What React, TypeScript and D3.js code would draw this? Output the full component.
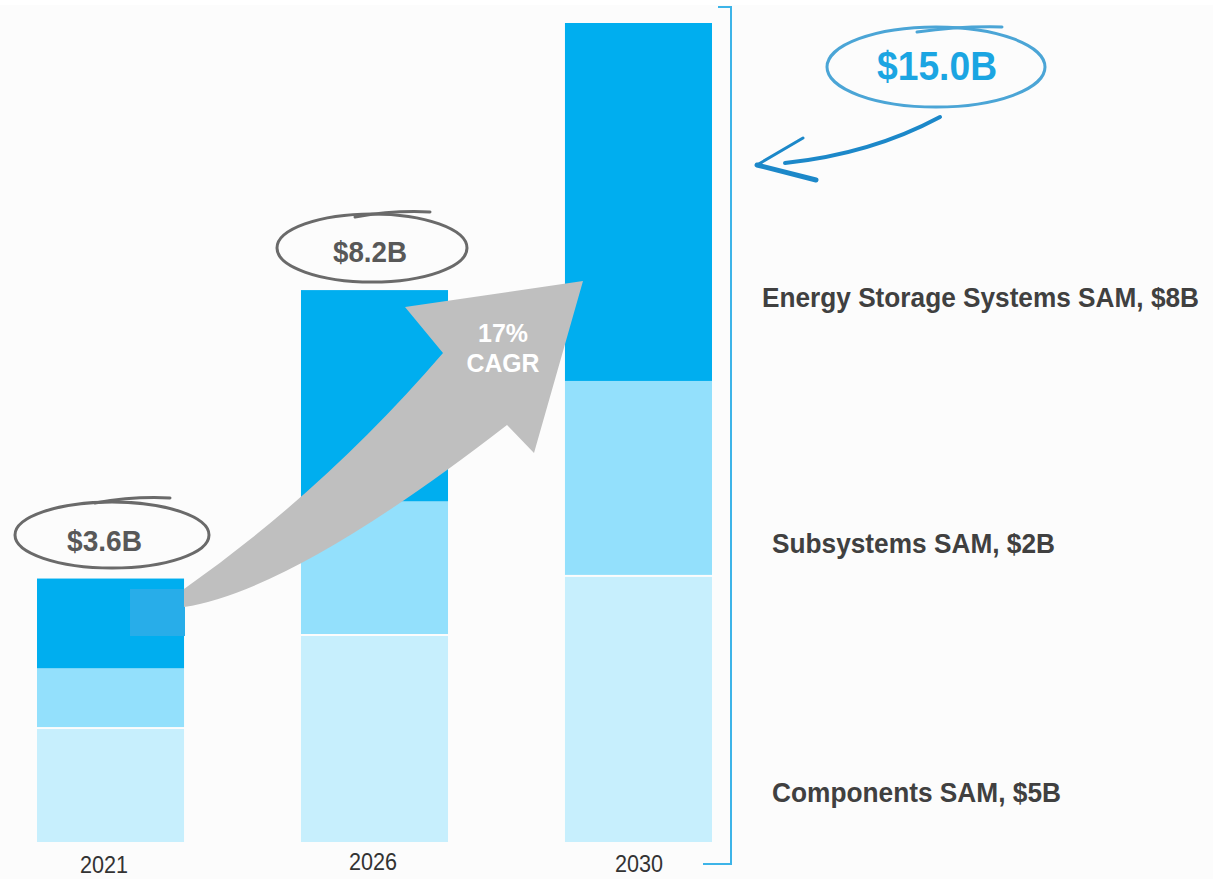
import React from "react";
import * as d3 from "d3";

const years = ["2021", "2026", "2030"];
const components = [2.1, 3.8, 4.88];
const subsystems = [1.11, 2.46, 3.58];
const energyStorage = [1.64, 3.86, 6.54];
const totalLabels = ["$3.6B", "$8.2B", "$15.0B"];
const seriesNames = ["Components SAM, $5B", "Subsystems SAM, $2B", "Energy Storage Systems SAM, $8B"];
const seriesKeys = ["components", "subsystems", "ess"];
const seriesColors = ["#c7effd", "#93e0fc", "#00aeef"];
const cagrLines = ["17%", "CAGR"];

const W = 1213;
const H = 879;

export default function App() {
  const table = years.map((y, i) => ({
    year: y,
    components: components[i],
    subsystems: subsystems[i],
    ess: energyStorage[i],
  }));
  const stack = d3.stack<any>().keys(seriesKeys)(table);
  const x = d3.scaleBand<string>().domain(years).range([37, 712]).paddingInner(0.443).paddingOuter(0);
  const y = d3.scaleLinear().domain([0, 15]).range([844, 23]);
  const bw = x.bandwidth();

  const upper = d3.path();
  upper.moveTo(184, 589);
  upper.quadraticCurveTo(326, 489, 443, 353);
  upper.lineTo(405, 307);
  upper.lineTo(583, 281);
  upper.lineTo(534, 453);
  upper.lineTo(507, 425);
  upper.quadraticCurveTo(294, 590, 184, 607);
  upper.closePath();

  const bubbles = [
    { cx: 112, cy: 535, rx: 97, ry: 33, stroke: "#6a6a6a", extra: "M95,503 Q135,496 170,498", tx: 104.5, ty: 551, fs: 29, tl: 75, fill: "#585858" },
    { cx: 372, cy: 248, rx: 95, ry: 34, stroke: "#6a6a6a", extra: "M355,217 Q395,210 430,212", tx: 370, ty: 262, fs: 29, tl: 74, fill: "#585858" },
    { cx: 936, cy: 67, rx: 109, ry: 40, stroke: "#4ba5d6", extra: "M917,32 Q960,26 1002,27", tx: 937, ty: 80, fs: 40, tl: 120, fill: "#1ba5e2" },
  ];

  const yearPos = [
    { cx: 104, by: 873 },
    { cx: 373, by: 870 },
    { cx: 639, by: 872 },
  ];

  const rightLabels = [
    { x: 772, by: 802, tl: 289 },
    { x: 772, by: 553, tl: 283 },
    { x: 762, by: 307, tl: 437 },
  ];

  return (
    <svg width={W} height={H} style={{ position: "absolute", left: 0, top: 0 }} fontFamily="'Liberation Sans', Arial, sans-serif">
      <rect x={0} y={0} width={W} height={H} fill="#fcfcfc" />
      <rect x={0} y={0} width={W} height={5} fill="#ffffff" />
      {stack.map((layer, li) =>
        layer.map((d, i) => {
          const top = y(d[1]);
          const bottom = y(d[0]);
          const h = bottom - top - (li < stack.length - 1 ? 2 : 0);
          return (
            <rect key={`${li}-${i}`} x={x(years[i])} y={top} width={bw} height={Math.max(0, h)} fill={seriesColors[li]} />
          );
        })
      )}
      <rect x={130} y={589} width={55} height={47} fill="#28ade9" />
      <path d={upper.toString()} fill="#bfbfbf" />
      <text textAnchor="middle" fill="#ffffff" fontWeight="bold" fontSize={25} x={503} y={342} textLength={50} lengthAdjust="spacingAndGlyphs">{cagrLines[0]}</text>
      <text textAnchor="middle" fill="#ffffff" fontWeight="bold" fontSize={25} x={503} y={372} textLength={73} lengthAdjust="spacingAndGlyphs">{cagrLines[1]}</text>

      {bubbles.map((b, i) => (
        <g key={i}>
          <ellipse cx={b.cx} cy={b.cy} rx={b.rx} ry={b.ry} fill="none" stroke={b.stroke} strokeWidth={3} />
          <path d={b.extra} fill="none" stroke={b.stroke} strokeWidth={3} strokeLinecap="round" />
          <text x={b.tx} y={b.ty} textAnchor="middle" fontWeight="bold" fontSize={b.fs} fill={b.fill} textLength={b.tl} lengthAdjust="spacingAndGlyphs">{totalLabels[i]}</text>
        </g>
      ))}

      <path d="M940,117 Q871,154 785,163" fill="none" stroke="#1c88c9" strokeWidth={4} strokeLinecap="round" />
      <path d="M803,138 L757,165" fill="none" stroke="#1c88c9" strokeWidth={3} strokeLinecap="round" />
      <path d="M757,165 L816,180" fill="none" stroke="#1c88c9" strokeWidth={5} strokeLinecap="round" />

      <path d="M718,7 L731,7 L731,864 L703,864" fill="none" stroke="#3db4e8" strokeWidth={2} />

      {years.map((yr, i) => (
        <text key={yr} x={yearPos[i].cx} y={yearPos[i].by} textAnchor="middle" fontSize={24} fill="#333333" textLength={48} lengthAdjust="spacingAndGlyphs">{yr}</text>
      ))}

      {seriesNames.map((n, i) => (
        <text key={n} x={rightLabels[i].x} y={rightLabels[i].by} fontWeight="bold" fontSize={27} fill="#404040" textLength={rightLabels[i].tl} lengthAdjust="spacingAndGlyphs">{n}</text>
      ))}
    </svg>
  );
}
